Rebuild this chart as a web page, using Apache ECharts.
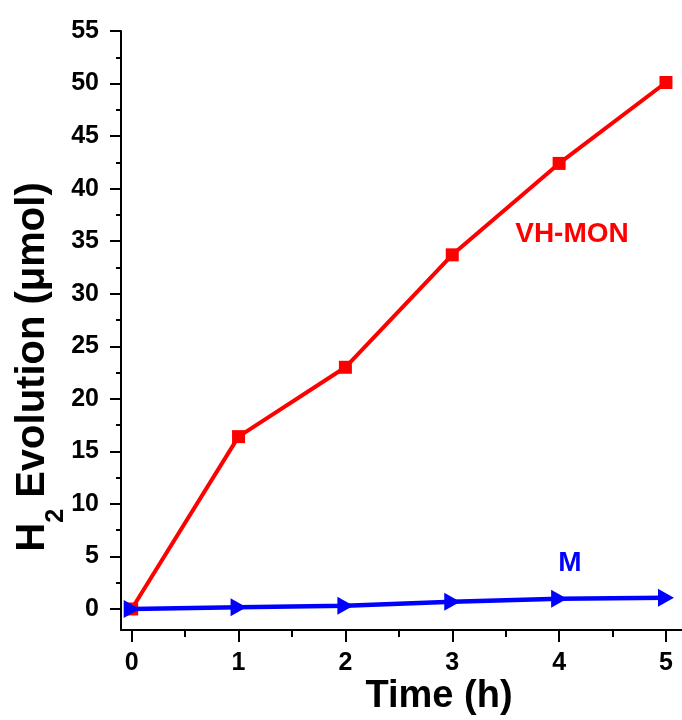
<!DOCTYPE html>
<html>
<head>
<meta charset="utf-8">
<script src="https://cdn.jsdelivr.net/npm/echarts@6/dist/echarts.min.js"></script>
<style>
html,body{margin:0;padding:0;background:#fff;}
#chart{width:682px;height:720px;}
</style>
</head>
<body>
<div id="chart"></div>
<script>
const times = [0, 1, 2, 3, 4, 5];
const vhmonValues = [0, 16.4, 23.0, 33.7, 42.4, 50.1];
const mValues = [0, 0.16, 0.31, 0.69, 0.98, 1.08];
const xTicks = [0, 1, 2, 3, 4, 5];
const xMinorTicks = [0.5, 1.5, 2.5, 3.5, 4.5];
const yTicks = [0, 5, 10, 15, 20, 25, 30, 35, 40, 45, 50, 55];
const yMinorTicks = [2.5, 7.5, 12.5, 17.5, 22.5, 27.5, 32.5, 37.5, 42.5, 47.5, 52.5];
const seriesNames = ['VH-MON', 'M'];
const xTitle = 'Time (h)';

const FONT = "'Liberation Sans', Arial, sans-serif";
const chart = echarts.init(document.getElementById('chart'), null, {renderer: 'canvas'});

const xRange = {min: -0.1, max: 5.15};
const yRange = {min: -2, max: 55};

function pairs(xs, ys) { return xs.map((x, i) => [x, ys[i]]); }

const option = {
  backgroundColor: '#fff',
  animation: false,
  grid: {left: 121, right: 0, top: 31, bottom: 90, containLabel: false},
  xAxis: [
    {
      type: 'value', min: xRange.min, max: xRange.max,
      axisLine: {show: true, onZero: false, lineStyle: {color: '#000', width: 2}},
      axisTick: {show: true, inside: false, length: 12, customValues: xTicks, lineStyle: {color: '#000', width: 2}},
      axisLabel: {show: true, customValues: xTicks, margin: 21, color: '#000', fontSize: 25, fontWeight: 'bold', fontFamily: FONT},
      splitLine: {show: false}
    },
    {
      type: 'value', min: xRange.min, max: xRange.max, position: 'bottom',
      axisLine: {show: false, onZero: false},
      axisTick: {show: true, inside: false, length: 7, customValues: xMinorTicks, lineStyle: {color: '#000', width: 2}},
      axisLabel: {show: false},
      splitLine: {show: false}
    }
  ],
  yAxis: [
    {
      type: 'value', min: yRange.min, max: yRange.max,
      axisLine: {show: true, onZero: false, lineStyle: {color: '#000', width: 2}},
      axisTick: {show: true, inside: false, length: 11, customValues: yTicks, lineStyle: {color: '#000', width: 2}},
      axisLabel: {show: true, customValues: yTicks, margin: 22, color: '#000', fontSize: 25, fontWeight: 'bold', fontFamily: FONT},
      splitLine: {show: false}
    },
    {
      type: 'value', min: yRange.min, max: yRange.max, position: 'left',
      axisLine: {show: false, onZero: false},
      axisTick: {show: true, inside: false, length: 5, customValues: yMinorTicks, lineStyle: {color: '#000', width: 2}},
      axisLabel: {show: false},
      splitLine: {show: false}
    }
  ],
  series: [
    {
      name: seriesNames[0], type: 'line', xAxisIndex: 0, yAxisIndex: 0,
      data: pairs(times, vhmonValues),
      symbol: 'rect', symbolSize: 13,
      lineStyle: {color: '#ff0000', width: 4},
      itemStyle: {color: '#ff0000'},
      z: 2
    },
    {
      name: seriesNames[1], type: 'line', xAxisIndex: 0, yAxisIndex: 0,
      data: pairs(times, mValues),
      symbol: 'triangle', symbolRotate: -90, symbolSize: [18, 16],
      lineStyle: {color: '#0000ff', width: 4.5},
      itemStyle: {color: '#0000ff'},
      z: 3
    }
  ],
  graphic: [
    {
      type: 'text', x: 439, y: 697,
      style: {text: xTitle, align: 'center', verticalAlign: 'middle', fill: '#000',
        font: "bold 38px " + FONT}
    },
    {
      type: 'text', x: 34, y: 367, rotation: Math.PI / 2,
      style: {
        text: '{a|H}{s|2}{a| Evolution (μmol)}',
        align: 'center', verticalAlign: 'middle',
        rich: {
          a: {fontSize: 40, fontWeight: 'bold', fontFamily: FONT, fill: '#000', lineHeight: 42, verticalAlign: 'top'},
          s: {fontSize: 25, fontWeight: 'bold', fontFamily: FONT, fill: '#000', lineHeight: 25, verticalAlign: 'top', padding: [31, 0, 0, 0]}
        }
      }
    },
    {
      type: 'text', x: 572, y: 234,
      style: {text: seriesNames[0], align: 'center', verticalAlign: 'middle', fill: '#ff0000',
        font: "bold 28px " + FONT}
    },
    {
      type: 'text', x: 570, y: 563,
      style: {text: seriesNames[1], align: 'center', verticalAlign: 'middle', fill: '#0000ff',
        font: "bold 28px " + FONT}
    }
  ]
};
chart.setOption(option);
</script>
</body>
</html>
